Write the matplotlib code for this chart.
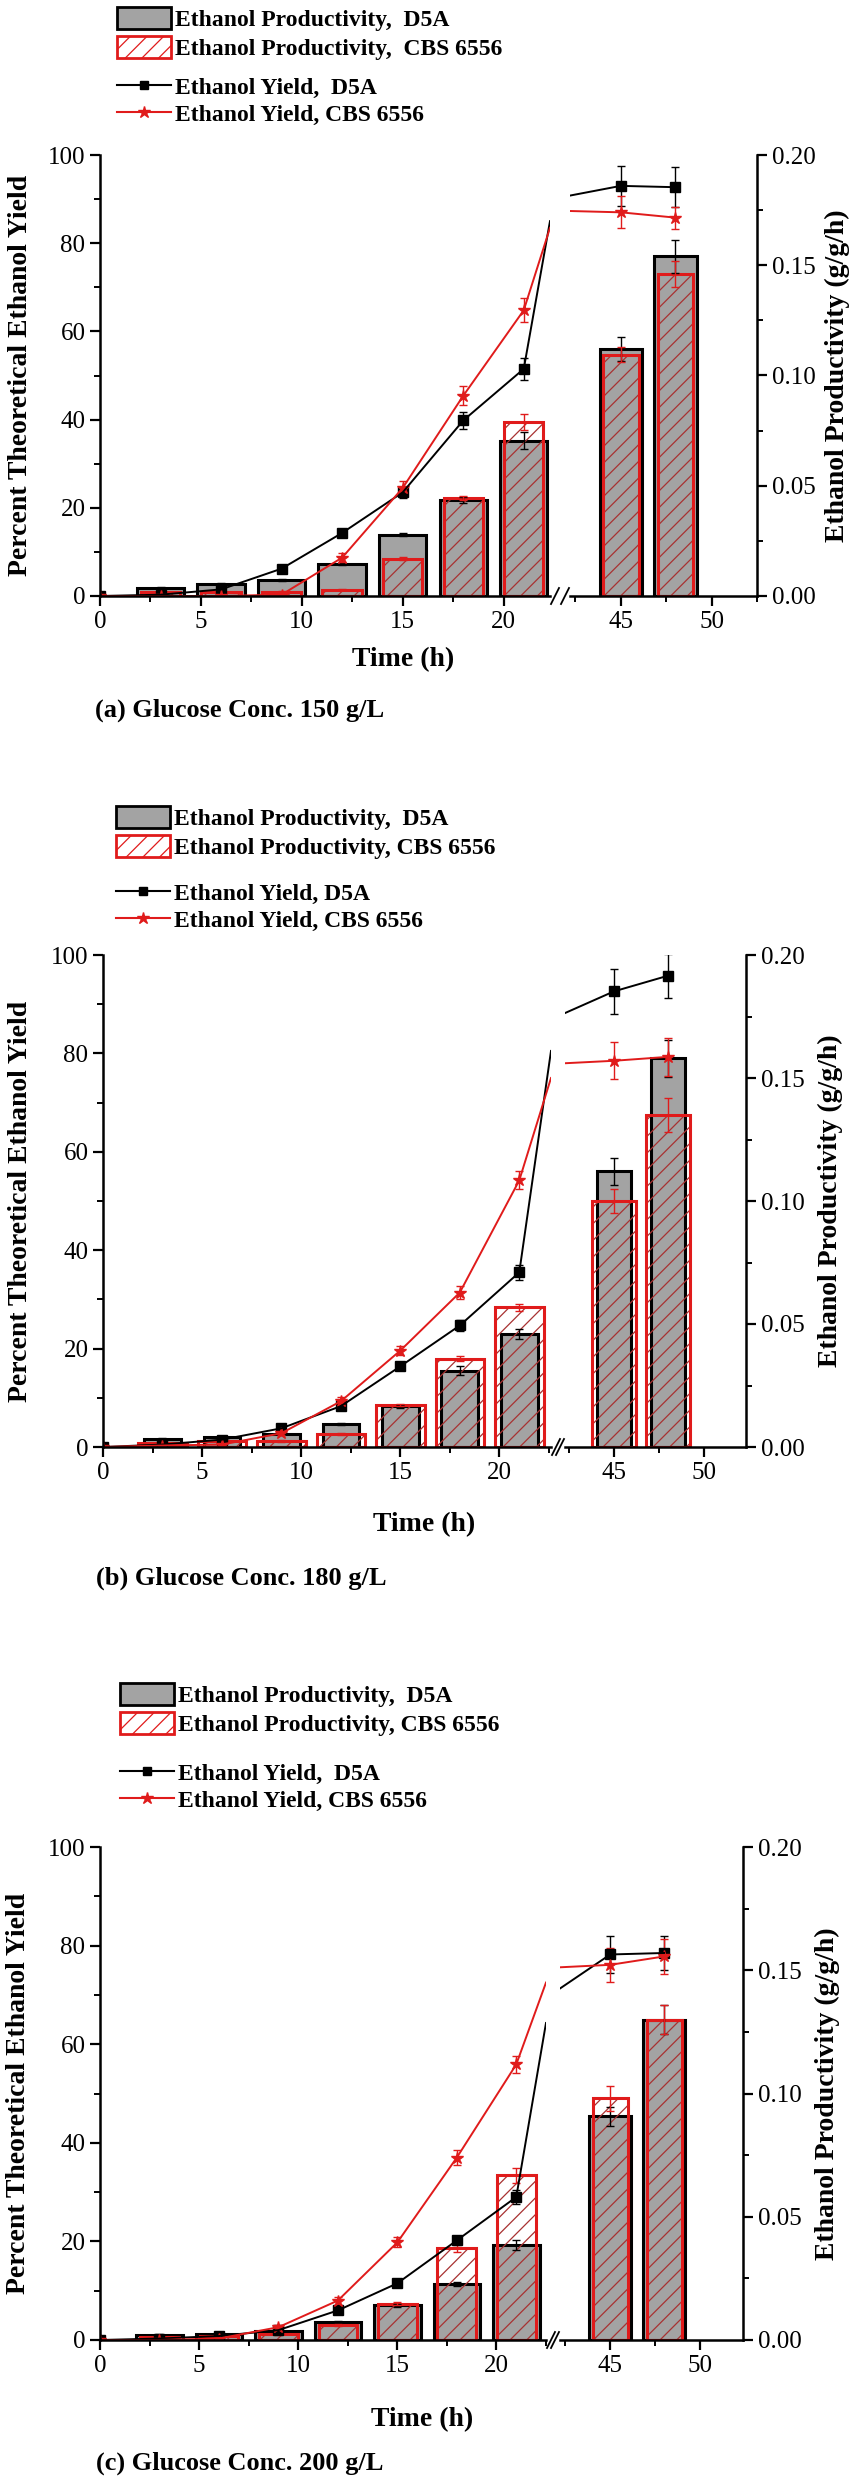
import matplotlib
matplotlib.use('Agg')
import matplotlib.pyplot as plt
from matplotlib.patches import Patch
from matplotlib.lines import Line2D
from matplotlib.ticker import MultipleLocator, FormatStrFormatter

plt.rcParams['font.family'] = ['Liberation Serif', 'DejaVu Serif']
plt.rcParams['hatch.linewidth'] = 0.9

# sampling times (h)
times = [0, 3, 6, 9, 12, 15, 18, 21, 45, 48]
bar_times = [3, 6, 9, 12, 15, 18, 21, 45, 48]

# (a) glucose 150 g/L
yield_d5a_a = [0, 0.3, 1.5, 6.2, 14.3, 23.5, 39.8, 51.5, 93.0, 92.7]
yield_d5a_a_err = [0, 0.3, 0.3, 0.5, 1.0, 1.2, 2.0, 2.5, 4.5, 4.5]
yield_cbs_a = [0, 0, 0, 0.3, 8.7, 24.5, 45.4, 64.8, 87.0, 85.8]
yield_cbs_a_err = [0, 0, 0, 0.3, 1.0, 1.5, 2.2, 2.7, 3.6, 2.5]
edge_d5a_a = [85.0, 90.8]   # yield line where it meets the axis break (left, right)
edge_cbs_a = [83.5, 87.3]
prod_d5a_a = [0.0038, 0.0056, 0.0074, 0.0146, 0.0278, 0.0435, 0.0705, 0.112, 0.154]
prod_d5a_a_err = [0.0004, 0.0004, 0.0005, 0.0005, 0.0008, 0.0015, 0.004, 0.0055, 0.0075]
prod_cbs_a = [0.002, 0.002, 0.002, 0.0028, 0.017, 0.0445, 0.079, 0.1095, 0.146]
prod_cbs_a_err = [0.0003, 0.0003, 0.0003, 0.0003, 0.0008, 0.001, 0.0035, 0.0035, 0.006]

# (b) glucose 180 g/L
yield_d5a_b = [0, 0.5, 1.5, 3.8, 8.3, 16.4, 24.7, 35.5, 92.6, 95.8]
yield_d5a_b_err = [0, 0.3, 0.3, 0.5, 0.8, 0.8, 1.2, 1.5, 4.5, 4.5]
yield_cbs_b = [0, 0.3, 0.5, 2.8, 9.3, 19.6, 31.4, 54.2, 78.5, 79.3]
yield_cbs_b_err = [0, 0.2, 0.3, 0.4, 0.8, 1.0, 1.3, 1.8, 3.8, 3.8]
edge_d5a_b = [80.5, 88.2]
edge_cbs_b = [75.0, 78.0]
prod_d5a_b = [0.0032, 0.004, 0.0054, 0.0092, 0.0166, 0.031, 0.046, 0.112, 0.158]
prod_d5a_b_err = [0.0003, 0.0003, 0.0004, 0.0004, 0.0006, 0.0018, 0.002, 0.0055, 0.0075]
prod_cbs_b = [0.0018, 0.0024, 0.0024, 0.0052, 0.017, 0.0358, 0.0568, 0.100, 0.135]
prod_cbs_b_err = [0.0003, 0.0003, 0.0003, 0.0004, 0.0005, 0.001, 0.0015, 0.005, 0.007]

# (c) glucose 200 g/L
yield_d5a_c = [0, 0.3, 0.8, 2.0, 6.0, 11.5, 20.2, 29.0, 78.2, 78.5]
yield_d5a_c_err = [0, 0.2, 0.2, 0.3, 0.5, 0.6, 0.8, 1.5, 3.8, 3.5]
yield_cbs_c = [0, 0, 0.3, 2.6, 8.0, 19.8, 37.0, 55.9, 76.1, 77.8]
yield_cbs_c_err = [0, 0, 0.2, 0.4, 0.8, 1.0, 1.5, 1.8, 3.5, 3.5]
edge_d5a_c = [64.3, 71.3]
edge_cbs_c = [72.5, 75.6]
prod_d5a_c = [0.002, 0.0026, 0.0036, 0.0074, 0.014, 0.0227, 0.0386, 0.0907, 0.130]
prod_d5a_c_err = [0.0003, 0.0003, 0.0003, 0.0004, 0.0005, 0.0008, 0.002, 0.004, 0.006]
prod_cbs_c = [0.0014, 0.0016, 0.0024, 0.006, 0.0148, 0.0372, 0.0668, 0.098, 0.130]
prod_cbs_c_err = [0.0003, 0.0003, 0.0003, 0.0004, 0.0006, 0.0015, 0.003, 0.005, 0.006]

GRAY = '#a3a3a3'
RED = '#e01b1b'
HATCH_RED = '#a83232'

W, H = 856, 2480
fig = plt.figure(figsize=(W / 100, H / 100), dpi=100)


def fx(x):
    return x / W


def fy(y):
    return 1 - y / H


def style_ticks(ax):
    ax.tick_params(which='major', direction='out', length=7, width=1.6, labelsize=18)
    ax.tick_params(which='minor', direction='out', length=4, width=1.4)


def draw_panel(lay, yd, yd_err, yc, yc_err, edge_d, edge_c,
               pd, pd_err, pc, pc_err, w_d, w_c, labels, caption):
    y0 = fy(lay['bottom'])
    h = (lay['bottom'] - lay['top']) / H
    axL = fig.add_axes([fx(lay['left']), y0, fx(lay['brk1'] - lay['left']), h])
    axR = fig.add_axes([fx(lay['brk2']), y0, fx(lay['right'] - lay['brk2']), h])
    pL = axL.twinx()
    pR = axR.twinx()

    for ax, p, xlim in [(axL, pL, lay['xl']), (axR, pR, lay['xr'])]:
        ax.set_zorder(p.get_zorder() + 1)
        ax.patch.set_visible(False)
        ax.set_xlim(xlim)
        ax.set_ylim(0, 100)
        p.set_ylim(0, 0.2)
        # bars: productivity
        p.bar(bar_times, pd, width=w_d, color=GRAY, edgecolor='black', linewidth=2.2,
              yerr=pd_err, error_kw=dict(ecolor='black', elinewidth=1, capsize=3, capthick=1))
        p.bar(bar_times, pc, width=w_c, facecolor='none', edgecolor=HATCH_RED,
              hatch='//', linewidth=0)
        p.bar(bar_times, pc, width=w_c, facecolor='none', edgecolor=RED, linewidth=2.2,
              yerr=pc_err, error_kw=dict(ecolor=RED, elinewidth=1, capsize=3, capthick=1))
        # markers + error bars: yield
        ax.errorbar(times, yd, yerr=yd_err, fmt='none', ecolor='black', elinewidth=1,
                    capsize=3, capthick=1)
        ax.errorbar(times, yc, yerr=yc_err, fmt='none', ecolor=RED, elinewidth=1,
                    capsize=3, capthick=1)
        ax.plot(times, yd, 's', color='black', markersize=6.5)
        ax.plot(times, yc, '*', color=RED, markersize=9)
        ax.spines['top'].set_visible(False)
        p.spines['top'].set_visible(False)
        for s in ['left', 'right', 'bottom']:
            p.spines[s].set_visible(False)
            ax.spines[s].set_linewidth(1.8)
        p.spines['right'].set_linewidth(1.8)
        style_ticks(ax)
        style_ticks(p)

    # yield lines broken at the axis break
    xl1 = lay['xl'][1]
    xr0 = lay['xr'][0]
    axL.plot(times[:8] + [xl1], yd[:8] + [edge_d[0]], color='black', lw=1.4)
    axL.plot(times[:8] + [xl1], yc[:8] + [edge_c[0]], color=RED, lw=1.4)
    axR.plot([xr0] + times[8:], [edge_d[1]] + yd[8:], color='black', lw=1.4)
    axR.plot([xr0] + times[8:], [edge_c[1]] + yc[8:], color=RED, lw=1.4)

    # left segment axes
    axL.spines['right'].set_visible(False)
    axL.xaxis.set_major_locator(MultipleLocator(5))
    axL.xaxis.set_minor_locator(MultipleLocator(2.5))
    axL.yaxis.set_major_locator(MultipleLocator(20))
    axL.yaxis.set_minor_locator(MultipleLocator(10))
    pL.set_yticks([])
    pL.tick_params(which='both', right=False, labelright=False)

    # right segment axes
    axR.spines['left'].set_visible(False)
    axR.spines['right'].set_visible(False)
    axR.tick_params(which='both', left=False, labelleft=False)
    axR.xaxis.set_major_locator(MultipleLocator(5))
    axR.xaxis.set_minor_locator(MultipleLocator(2.5))
    pR.spines['right'].set_visible(True)
    pR.yaxis.set_major_locator(MultipleLocator(0.05))
    pR.yaxis.set_minor_locator(MultipleLocator(0.025))
    pR.yaxis.set_major_formatter(FormatStrFormatter('%.2f'))

    # break marks on the time axis
    yb = lay['bottom']
    for xa in [lay['brk1'] + 1, lay['brk2'] - 9]:
        fig.add_artist(Line2D([fx(xa), fx(xa + 8)], [fy(yb + 8), fy(yb - 8)],
                              transform=fig.transFigure, color='black', lw=1.3))

    # legends
    font = dict(size=17, weight='bold')
    bar_handles = [Patch(facecolor=GRAY, edgecolor='black', linewidth=2),
                   Patch(facecolor='white', edgecolor=RED, hatch='//', linewidth=2)]
    line_handles = [Line2D([], [], color='black', marker='s', markersize=6, lw=1.5),
                    Line2D([], [], color=RED, marker='*', markersize=9, lw=1.5)]
    fig.legend(bar_handles, labels[:2], loc='upper left',
               bbox_to_anchor=(fx(lay['leg_x']), fy(lay['leg_bars'])),
               frameon=False, borderpad=0, borderaxespad=0, prop=font,
               handlelength=2.3, handleheight=1.05, handletextpad=0.15, labelspacing=0.2)
    fig.legend(line_handles, labels[2:], loc='upper left',
               bbox_to_anchor=(fx(lay['leg_x']), fy(lay['leg_lines'])),
               frameon=False, borderpad=0, borderaxespad=0, prop=font,
               handlelength=2.3, handleheight=0.85, handletextpad=0.15, labelspacing=0.2)

    # axis titles and caption
    ymid = fy((lay['top'] + lay['bottom']) / 2)
    fig.text(fx(lay['ylab_l']), ymid, 'Percent Theoretical Ethanol Yield', rotation=90,
             ha='center', va='center', fontsize=20, fontweight='bold')
    fig.text(fx(lay['ylab_r']), ymid, 'Ethanol Productivity (g/g/h)', rotation=90,
             ha='center', va='center', fontsize=20, fontweight='bold')
    fig.text(fx(lay['xlab'][0]), fy(lay['xlab'][1]), 'Time (h)', ha='center', va='center',
             fontsize=20, fontweight='bold')
    fig.text(fx(lay['cap'][0]), fy(lay['cap'][1]), caption, ha='left', va='center',
             fontsize=19, fontweight='bold')


lay_a = dict(left=100, top=155, bottom=596, brk1=550, brk2=570, right=757,
             xl=(0, 22.3), xr=(42.2, 52.5), leg_x=117, leg_bars=7, leg_lines=76,
             ylab_l=21, ylab_r=837, xlab=(403, 660), cap=(95, 710))
lay_b = dict(left=103, top=955, bottom=1447, brk1=551, brk2=565, right=746,
             xl=(0, 22.6), xr=(42.3, 52.3), leg_x=116, leg_bars=806, leg_lines=882,
             ylab_l=21, ylab_r=830, xlab=(424, 1525), cap=(96, 1578))
lay_c = dict(left=100, top=1847, bottom=2340, brk1=546, brk2=560, right=743,
             xl=(0, 22.5), xr=(42.2, 52.4), leg_x=120, leg_bars=1683, leg_lines=1762,
             ylab_l=19, ylab_r=827, xlab=(422, 2420), cap=(96, 2463))

draw_panel(lay_a, yield_d5a_a, yield_d5a_a_err, yield_cbs_a, yield_cbs_a_err,
           edge_d5a_a, edge_cbs_a, prod_d5a_a, prod_d5a_a_err, prod_cbs_a, prod_cbs_a_err,
           2.35, 1.95,
           ['Ethanol Productivity,  D5A', 'Ethanol Productivity,  CBS 6556',
            'Ethanol Yield,  D5A', 'Ethanol Yield, CBS 6556'],
           '(a) Glucose Conc. 150 g/L')
draw_panel(lay_b, yield_d5a_b, yield_d5a_b_err, yield_cbs_b, yield_cbs_b_err,
           edge_d5a_b, edge_cbs_b, prod_d5a_b, prod_d5a_b_err, prod_cbs_b, prod_cbs_b_err,
           1.85, 2.45,
           ['Ethanol Productivity,  D5A', 'Ethanol Productivity, CBS 6556',
            'Ethanol Yield, D5A', 'Ethanol Yield, CBS 6556'],
           '(b) Glucose Conc. 180 g/L')
draw_panel(lay_c, yield_d5a_c, yield_d5a_c_err, yield_cbs_c, yield_cbs_c_err,
           edge_d5a_c, edge_cbs_c, prod_d5a_c, prod_d5a_c_err, prod_cbs_c, prod_cbs_c_err,
           2.35, 1.95,
           ['Ethanol Productivity,  D5A', 'Ethanol Productivity, CBS 6556',
            'Ethanol Yield,  D5A', 'Ethanol Yield, CBS 6556'],
           '(c) Glucose Conc. 200 g/L')

fig.savefig('out.png', dpi=100)
